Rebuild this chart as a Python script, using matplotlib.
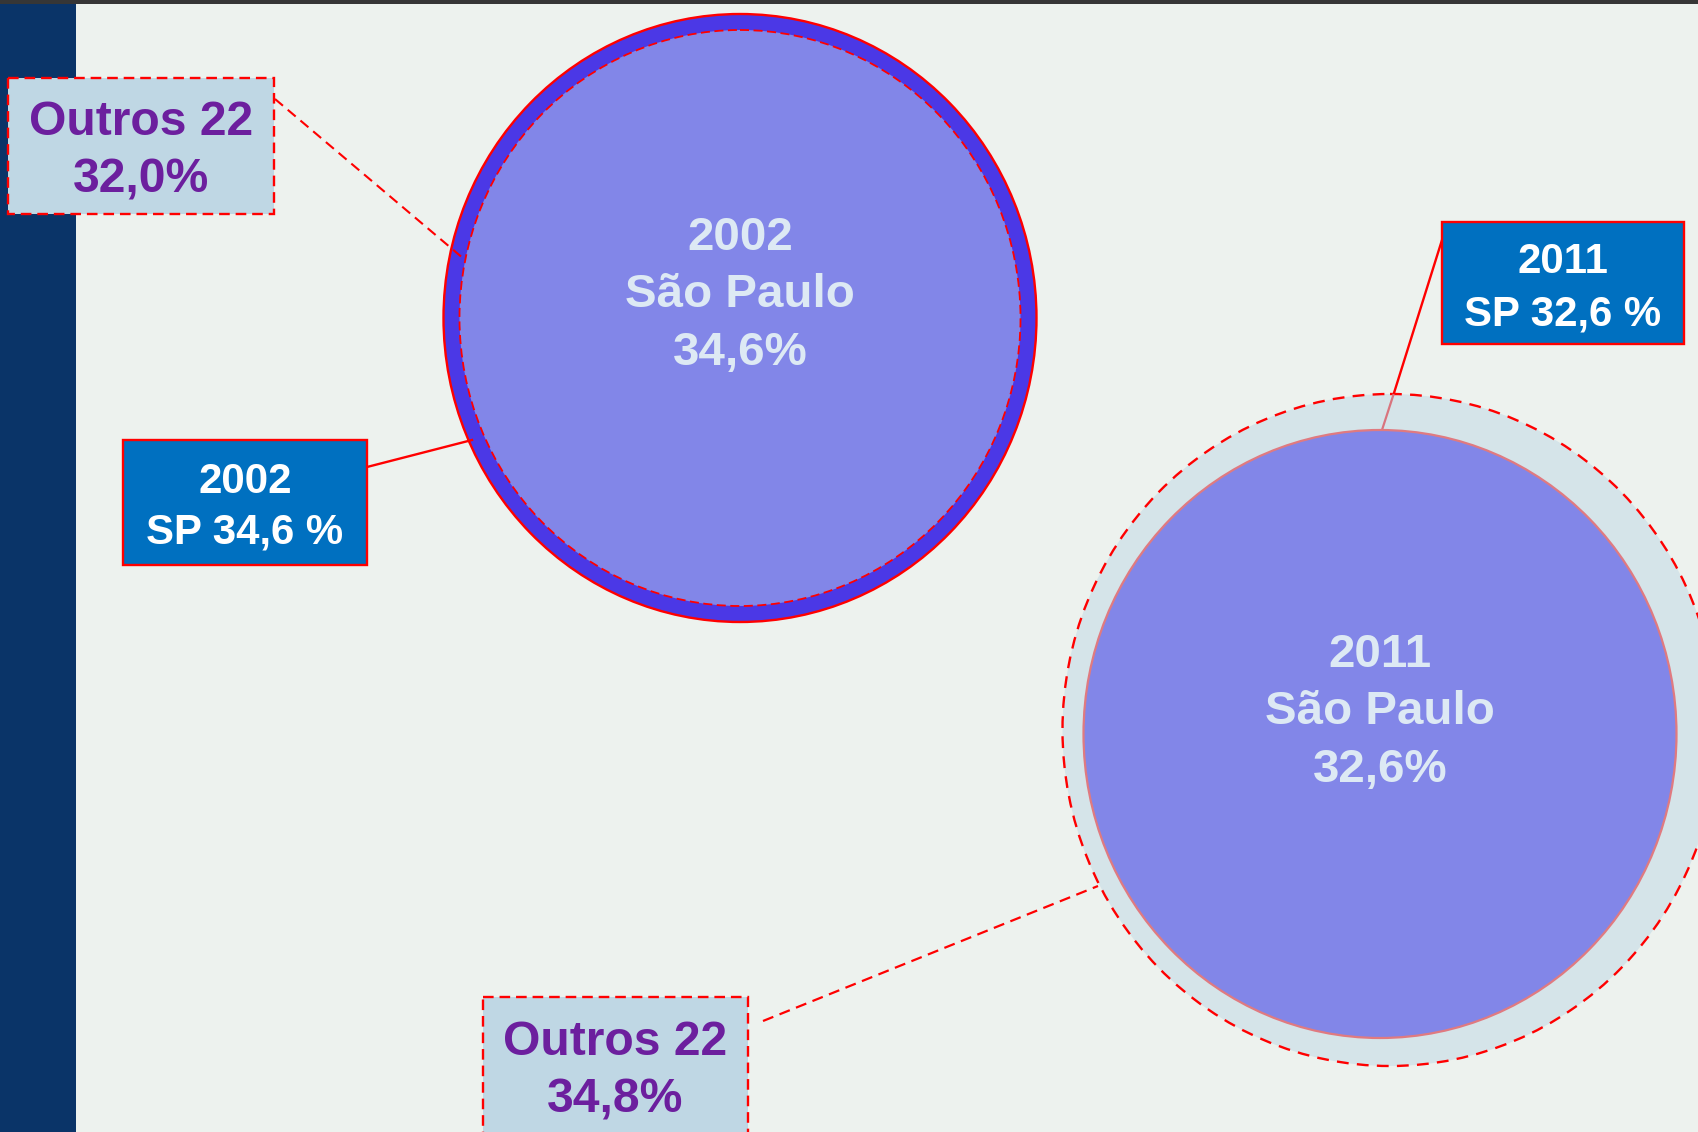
import matplotlib
matplotlib.use("Agg")
import matplotlib.pyplot as plt
from matplotlib.patches import Rectangle, Ellipse

# ---- data ----
years = ["2002", "2011"]
sp_share = [34.6, 32.6]          # São Paulo share (%)
outros_share = [32.0, 34.8]      # share of the other 22 states (%)
region_name = "São Paulo"
region_abbr = "SP"
others_label = "Outros 22"


def fmt(v):
    return f"{v:.1f}".replace(".", ",")


plt.rcParams["font.family"] = ["Liberation Sans", "DejaVu Sans"]
W, H = 1698, 1132
fig = plt.figure(figsize=(W / 100, H / 100), dpi=100)
ax = fig.add_axes([0, 0, 1, 1])
ax.set_xlim(0, W)
ax.set_ylim(H, 0)
ax.axis("off")

BG = "#edf2ee"
NAVY = "#0a3468"
RED = "#ff0000"
BOXBLUE = "#0070c0"
LIGHTBOX = "#bfd7e4"
PURPLE = "#6c1f9e"
INNER = "#8286e8"
RING = "#4b38e6"
PALE_RING = "#d5e4e9"
CIRC_TXT = "#dde9f4"

PX = 0.72  # px -> pt

ax.add_patch(Rectangle((0, 0), W, H, facecolor=BG, edgecolor="none", zorder=0))
ax.add_patch(Rectangle((0, 0), 76, H, facecolor=NAVY, edgecolor="none", zorder=1))
ax.add_patch(Rectangle((0, 0), W, 4, facecolor="#363636", edgecolor="none", zorder=1))

# ---- 2002 circle ----
c1 = (740, 318)
ax.add_patch(Ellipse(c1, 593, 608, facecolor=RING, edgecolor=RED, lw=1.7, zorder=2))
ax.add_patch(Ellipse(c1, 561, 576, facecolor=INNER, edgecolor="none", zorder=3))
ax.add_patch(Ellipse(c1, 561, 576, facecolor="none", edgecolor=RED, lw=1.3,
                     linestyle=(0, (5, 2.5)), zorder=4))

# ---- 2011 circle ----
c2 = (1380, 734)
ax.add_patch(Ellipse((1390, 730), 655, 672, facecolor=PALE_RING, edgecolor=RED, lw=1.7,
                     linestyle=(0, (5, 3.5)), zorder=2))
# faded leader segment inside pale ring
ax.plot([1394, 1382], [393, 430], color="#d9747e", lw=1.6, zorder=2.5)
ax.add_patch(Ellipse(c2, 593, 608, facecolor=INNER, edgecolor="#e07a80", lw=1.6, zorder=3))

# ---- leader lines ----
ax.plot([275, 464], [99, 259], color=RED, lw=1.5, linestyle=(0, (5, 3)), zorder=5)
ax.plot([367, 472], [467, 440], color=RED, lw=1.7, zorder=5)
ax.plot([1442, 1394], [240, 393], color=RED, lw=1.7, zorder=5)
ax.plot([763, 1098], [1021, 886], color=RED, lw=1.6, linestyle=(0, (5, 3)), zorder=5)

# ---- boxes ----
def box(x0, y0, x1, y1, fc, dashed):
    ls = (0, (4.5, 2.5)) if dashed else "-"
    ax.add_patch(Rectangle((x0, y0), x1 - x0, y1 - y0, facecolor=fc, edgecolor=RED,
                           lw=1.7, linestyle=ls, zorder=6))

box(8, 78, 274, 214, LIGHTBOX, True)
box(483, 997, 748, 1160, LIGHTBOX, True)
box(123, 440, 367, 565, BOXBLUE, False)
box(1442, 222, 1684, 344, BOXBLUE, False)


def txt(x, y, s, color, px):
    ax.text(x, y, s, color=color, fontsize=px * PX, fontweight="bold",
            ha="center", va="baseline", zorder=7)

# Outros boxes
txt(141, 135, others_label, PURPLE, 48)
txt(141, 193, f"{fmt(outros_share[0])}%", PURPLE, 48)
txt(615.5, 1055, others_label, PURPLE, 48)
txt(615.5, 1112, f"{fmt(outros_share[1])}%", PURPLE, 48)

# SP boxes
txt(245, 493, years[0], "white", 42)
txt(245, 543, f"{region_abbr} {fmt(sp_share[0])} %", "white", 42)
txt(1563, 273, years[1], "white", 42)
txt(1563, 325, f"{region_abbr} {fmt(sp_share[1])} %", "white", 42)

# circle labels
for cx, base, yr, v in [(740, 250, years[0], sp_share[0]), (1380, 667, years[1], sp_share[1])]:
    txt(cx, base, yr, CIRC_TXT, 47.5)
    txt(cx, base + 57, region_name, CIRC_TXT, 47.5)
    txt(cx, base + 115, f"{fmt(v)}%", CIRC_TXT, 47.5)

fig.savefig("out.png", dpi=100, facecolor=BG)
